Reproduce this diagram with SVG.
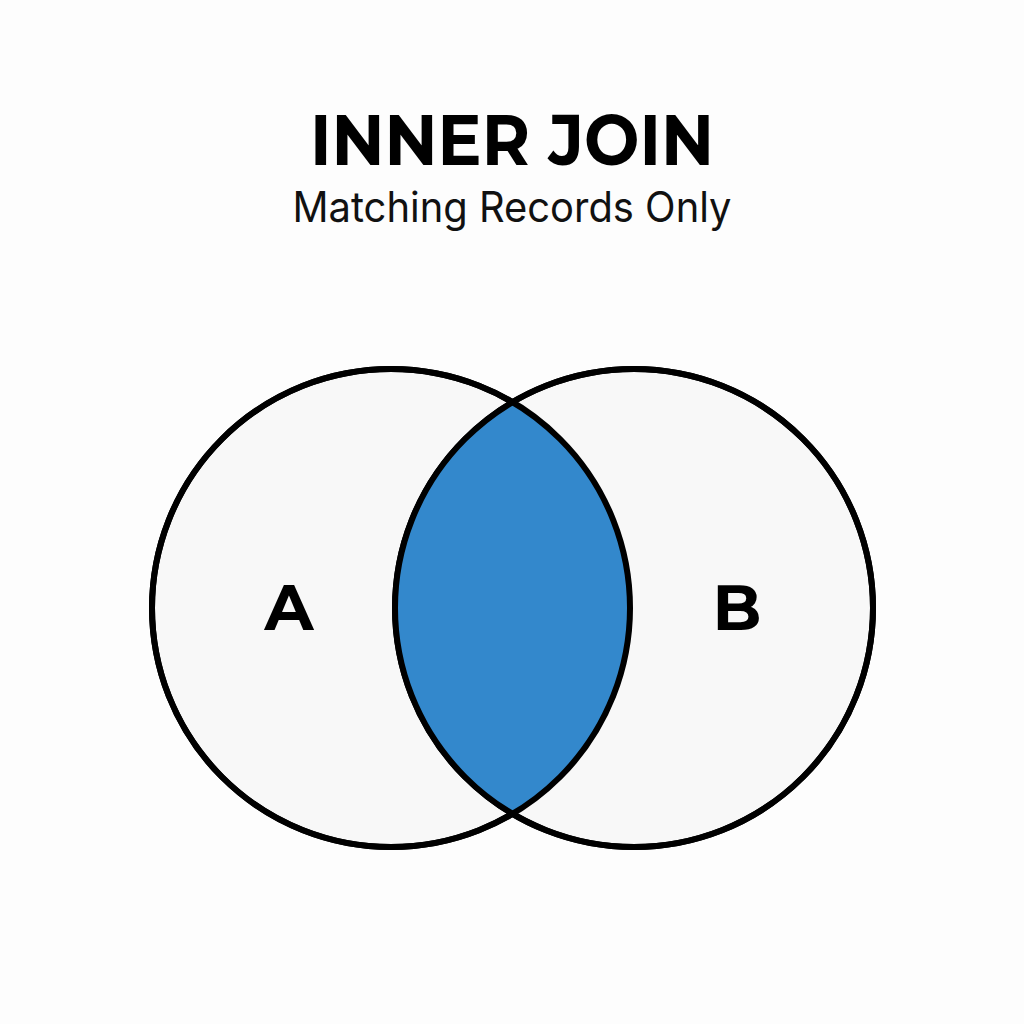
<svg xmlns="http://www.w3.org/2000/svg" width="1024" height="1024" viewBox="0 0 1024 1024">
<style>
.ring{fill:#f8f8f8;stroke:#000;stroke-width:6}
.edge{fill:none;stroke:#000;stroke-width:6}
.lbl{font-family:"Montserrat","Inter","Liberation Sans",sans-serif;font-weight:700;fill:#000;text-anchor:middle}
</style>
<defs>
<clipPath id="clipA"><circle cx="391" cy="608" r="239"/></clipPath>
</defs>
<rect width="1024" height="1024" fill="#fdfdfd"/>
<g id="title">
<text x="512" y="165" class="lbl" font-size="72" textLength="404" lengthAdjust="spacingAndGlyphs">INNER JOIN</text>
<text x="512" y="222" font-family="Inter,'Liberation Sans',sans-serif" font-size="42" fill="#111" text-anchor="middle" textLength="439" lengthAdjust="spacingAndGlyphs">Matching Records Only</text>
</g>
<g id="nodeA"><circle class="ring" cx="391" cy="608" r="239"/></g>
<g id="nodeB"><circle class="ring" cx="634" cy="608" r="239"/></g>
<g id="intersection">
<circle cx="634" cy="608" r="239" fill="#3388cc" clip-path="url(#clipA)"/>
<circle class="edge" cx="391" cy="608" r="239"/>
<circle class="edge" cx="634" cy="608" r="239"/>
</g>
<text x="289" y="630" class="lbl" font-size="64">A</text>
<text x="737" y="630" class="lbl" font-size="64">B</text>
</svg>
